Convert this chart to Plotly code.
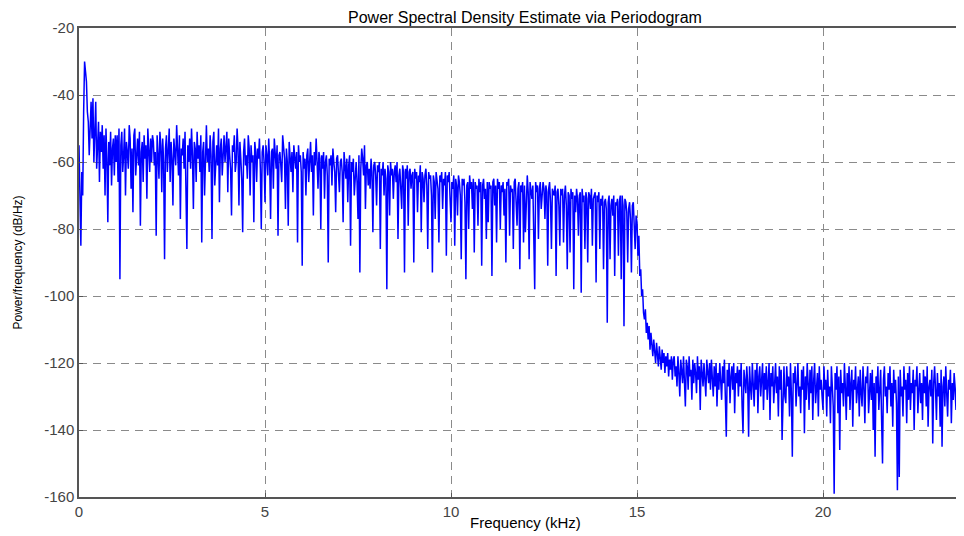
import numpy as np
import plotly.graph_objects as go

# Frequency bins (kHz): evenly spaced periodogram bins, 0.025 kHz apart
freq_start_khz = 0.0
freq_step_khz = 0.025

# Power/frequency (dB/Hz), one list per kHz band
psd_0_1 = [-55, -72, -85, -63, -70, -45, -30, -33, -36, -45, -48, -58, -47, -42, -53, -41, -60, -50, -42, -62,
           -55, -48, -66, -51, -57, -49, -62, -52, -70, -50, -59, -78, -54, -61, -51, -67, -56, -53, -64, -52]
psd_1_2 = [-60, -52, -66, -50, -95, -55, -51, -63, -58, -50, -70, -54, -57, -62, -49, -53, -68, -56, -75, -52,
           -50, -64, -58, -53, -61, -51, -79, -57, -54, -66, -52, -59, -55, -71, -50, -56, -63, -53, -60, -52]
psd_2_3 = [-54, -61, -57, -82, -52, -58, -65, -51, -55, -69, -53, -60, -89, -56, -52, -63, -57, -50, -66, -54,
           -59, -73, -53, -57, -61, -49, -55, -64, -52, -77, -56, -58, -53, -62, -51, -68, -86, -55, -60, -53]
psd_3_4 = [-62, -50, -58, -74, -54, -56, -66, -51, -59, -55, -63, -52, -84, -57, -54, -70, -53, -49, -60, -56,
           -63, -52, -58, -83, -54, -51, -67, -57, -55, -61, -50, -72, -56, -53, -64, -58, -52, -60, -55, -51]
psd_4_5 = [-69, -53, -58, -62, -76, -55, -57, -52, -63, -60, -50, -56, -73, -54, -59, -65, -81, -57, -53, -61,
           -58, -65, -52, -56, -70, -55, -60, -58, -78, -54, -57, -66, -56, -59, -53, -62, -80, -57, -55, -60]
psd_5_6 = [-72, -55, -58, -64, -53, -60, -77, -57, -56, -68, -53, -59, -62, -55, -82, -58, -57, -61, -66, -52,
           -56, -59, -74, -56, -60, -79, -54, -58, -63, -57, -69, -55, -59, -62, -57, -84, -55, -60, -58, -63]
psd_6_7 = [-91, -57, -62, -59, -70, -58, -56, -66, -60, -54, -63, -58, -76, -57, -61, -53, -60, -68, -57, -59,
           -80, -58, -62, -57, -71, -60, -58, -64, -90, -59, -61, -58, -67, -56, -60, -63, -75, -59, -58, -62]
psd_7_8 = [-69, -60, -59, -63, -78, -57, -61, -65, -59, -72, -61, -58, -85, -60, -63, -59, -70, -62, -60, -66,
           -77, -58, -93, -62, -56, -59, -64, -55, -74, -61, -60, -67, -62, -68, -59, -63, -81, -61, -60, -64]
psd_8_9 = [-73, -61, -63, -60, -86, -62, -64, -60, -70, -62, -65, -98, -61, -63, -76, -60, -64, -62, -71, -63,
           -61, -66, -60, -83, -64, -62, -67, -74, -61, -63, -93, -62, -65, -61, -79, -63, -62, -68, -64, -63]
psd_9_10 = [-90, -62, -65, -63, -75, -64, -66, -61, -81, -63, -65, -72, -64, -62, -67, -86, -63, -65, -64, -70,
            -93, -64, -66, -77, -63, -65, -68, -84, -64, -66, -63, -74, -65, -67, -63, -88, -64, -66, -63, -71]
psd_10_11 = [-78, -66, -68, -64, -85, -65, -67, -76, -64, -66, -70, -89, -65, -67, -65, -72, -95, -67, -66, -80,
             -64, -68, -66, -74, -65, -87, -66, -68, -67, -79, -65, -69, -66, -91, -67, -65, -71, -68, -83, -66]
psd_11_12 = [-78, -66, -68, -67, -94, -66, -65, -73, -67, -84, -65, -68, -66, -80, -67, -69, -66, -76, -68, -90,
             -66, -67, -65, -82, -67, -69, -68, -86, -66, -65, -70, -79, -68, -66, -92, -67, -69, -66, -84, -67]
psd_12_13 = [-81, -67, -64, -69, -89, -66, -68, -71, -67, -85, -98, -66, -69, -67, -83, -68, -66, -74, -70, -66,
             -68, -77, -67, -69, -91, -68, -66, -72, -86, -68, -69, -70, -67, -94, -69, -68, -73, -85, -68, -70]
psd_13_14 = [-68, -84, -70, -67, -73, -92, -69, -70, -87, -68, -71, -69, -98, -70, -75, -68, -71, -82, -70, -69,
             -99, -68, -72, -70, -86, -69, -71, -90, -69, -70, -74, -68, -85, -71, -70, -69, -96, -70, -72, -69]
psd_14_15 = [-86, -71, -73, -70, -92, -72, -71, -74, -108, -72, -70, -89, -73, -71, -76, -70, -94, -72, -73, -71,
             -88, -72, -70, -95, -70, -73, -109, -71, -72, -75, -90, -74, -72, -77, -93, -73, -72, -80, -86, -76]
psd_15_16 = [-78, -88, -82, -94, -92, -100, -98, -105, -107, -104, -111, -108, -113, -109, -116, -111, -114, -118, -113, -116,
             -120, -114, -117, -121, -115, -119, -122, -116, -120, -117, -123, -118, -121, -117, -124, -119, -122, -118, -125, -119]
psd_16_17 = [-118, -124, -121, -127, -118, -123, -130, -119, -122, -126, -118, -125, -133, -119, -121, -128, -118, -124, -122, -131,
             -119, -126, -120, -123, -129, -118, -125, -121, -134, -119, -122, -127, -120, -124, -130, -119, -123, -126, -120, -128]
psd_17_18 = [-119, -125, -130, -121, -127, -120, -133, -123, -128, -120, -124, -131, -121, -126, -119, -129, -142, -122, -127, -120,
             -132, -124, -121, -128, -120, -135, -123, -126, -121, -130, -122, -127, -120, -133, -141, -122, -125, -129, -121, -126]
psd_18_19 = [-142, -121, -127, -131, -120, -125, -133, -122, -128, -120, -135, -124, -121, -130, -126, -120, -134, -123, -128, -121,
             -131, -125, -120, -137, -123, -127, -121, -132, -126, -120, -129, -124, -136, -121, -128, -122, -143, -125, -121, -130]
psd_19_20 = [-132, -121, -127, -124, -136, -120, -129, -148, -123, -126, -121, -133, -125, -120, -130, -127, -135, -122, -128, -121,
             -141, -124, -131, -120, -126, -134, -122, -129, -121, -137, -125, -120, -132, -127, -123, -136, -121, -128, -125, -130]
psd_20_21 = [-134, -121, -128, -125, -136, -122, -130, -127, -138, -121, -126, -133, -159, -123, -128, -121, -135, -124, -146, -122,
             -129, -126, -133, -120, -127, -137, -123, -130, -121, -134, -126, -122, -139, -125, -128, -121, -132, -127, -124, -136]
psd_21_22 = [-122, -129, -133, -121, -127, -138, -124, -126, -121, -135, -128, -123, -131, -122, -140, -126, -148, -124, -129, -121,
             -134, -127, -122, -137, -150, -125, -121, -130, -127, -135, -123, -128, -121, -133, -126, -139, -122, -129, -125, -132]
psd_22_23 = [-158, -124, -154, -122, -130, -127, -136, -121, -128, -125, -138, -123, -131, -121, -134, -126, -129, -122, -140, -125,
             -127, -121, -135, -128, -123, -132, -126, -137, -122, -129, -124, -133, -121, -139, -127, -125, -130, -122, -144, -126]
psd_23_24 = [-121, -128, -137, -123, -130, -126, -139, -122, -145, -127, -124, -133, -121, -129, -136, -125, -128, -122, -138, -126,
             -131, -123, -127, -134, -121, -129, -140, -124, -127, -132, -149, -125, -122, -135, -128, -124, -138, -123, -130, -126, -122]

x_ticks = [0, 5, 10, 15, 20]
y_ticks = [-160, -140, -120, -100, -80, -60, -40, -20]

psd_db = (psd_0_1 + psd_1_2 + psd_2_3 + psd_3_4 + psd_4_5 + psd_5_6 + psd_6_7 + psd_7_8
          + psd_8_9 + psd_9_10 + psd_10_11 + psd_11_12 + psd_12_13 + psd_13_14 + psd_14_15
          + psd_15_16 + psd_16_17 + psd_17_18 + psd_18_19 + psd_19_20 + psd_20_21 + psd_21_22
          + psd_22_23 + psd_23_24)
freq_khz = freq_start_khz + freq_step_khz * np.arange(len(psd_db))

fig = go.Figure()
fig.add_trace(go.Scatter(x=freq_khz, y=psd_db, mode="lines",
                         line=dict(color="#0000FF", width=1.5), hoverinfo="skip"))

FONT = "Liberation Sans, Arial, Helvetica, sans-serif"
axis_common = dict(
    showgrid=True, gridcolor="#8a8a8a", gridwidth=1, griddash="8px,6px",
    zeroline=False, showline=True, linecolor="#555555", linewidth=1.5,
    ticks="inside", ticklen=4, tickcolor="#555555",
    tickfont=dict(family=FONT, size=15, color="#444444"),
)

fig.update_layout(
    width=956, height=528,
    margin=dict(l=71, r=0, t=20, b=39),
    paper_bgcolor="white", plot_bgcolor="white",
    showlegend=False,
    xaxis=dict(range=[0, 23.79], tickvals=x_ticks, ticktext=[str(v) for v in x_ticks],
               mirror=True, **axis_common),
    yaxis=dict(range=[-160, -20], tickvals=y_ticks, ticktext=[str(v) for v in y_ticks],
               mirror=False, **axis_common),
    annotations=[
        dict(text="Power Spectral Density Estimate via Periodogram", xref="paper", yref="paper",
             x=0.504, y=1, yshift=11, showarrow=False, xanchor="center", yanchor="middle",
             font=dict(family=FONT, size=16, color="black")),
        dict(text="Frequency (kHz)", xref="paper", yref="paper", x=0.504, y=0, yshift=-25,
             showarrow=False, xanchor="center", yanchor="middle",
             font=dict(family=FONT, size=15, color="black")),
        dict(text="Power/frequency (dB/Hz)", xref="paper", yref="paper", x=0, xshift=-62,
             y=0.5, textangle=-90, showarrow=False, xanchor="center", yanchor="middle",
             font=dict(family=FONT, size=12, color="black")),
    ],
)

fig.write_html("out.html")
